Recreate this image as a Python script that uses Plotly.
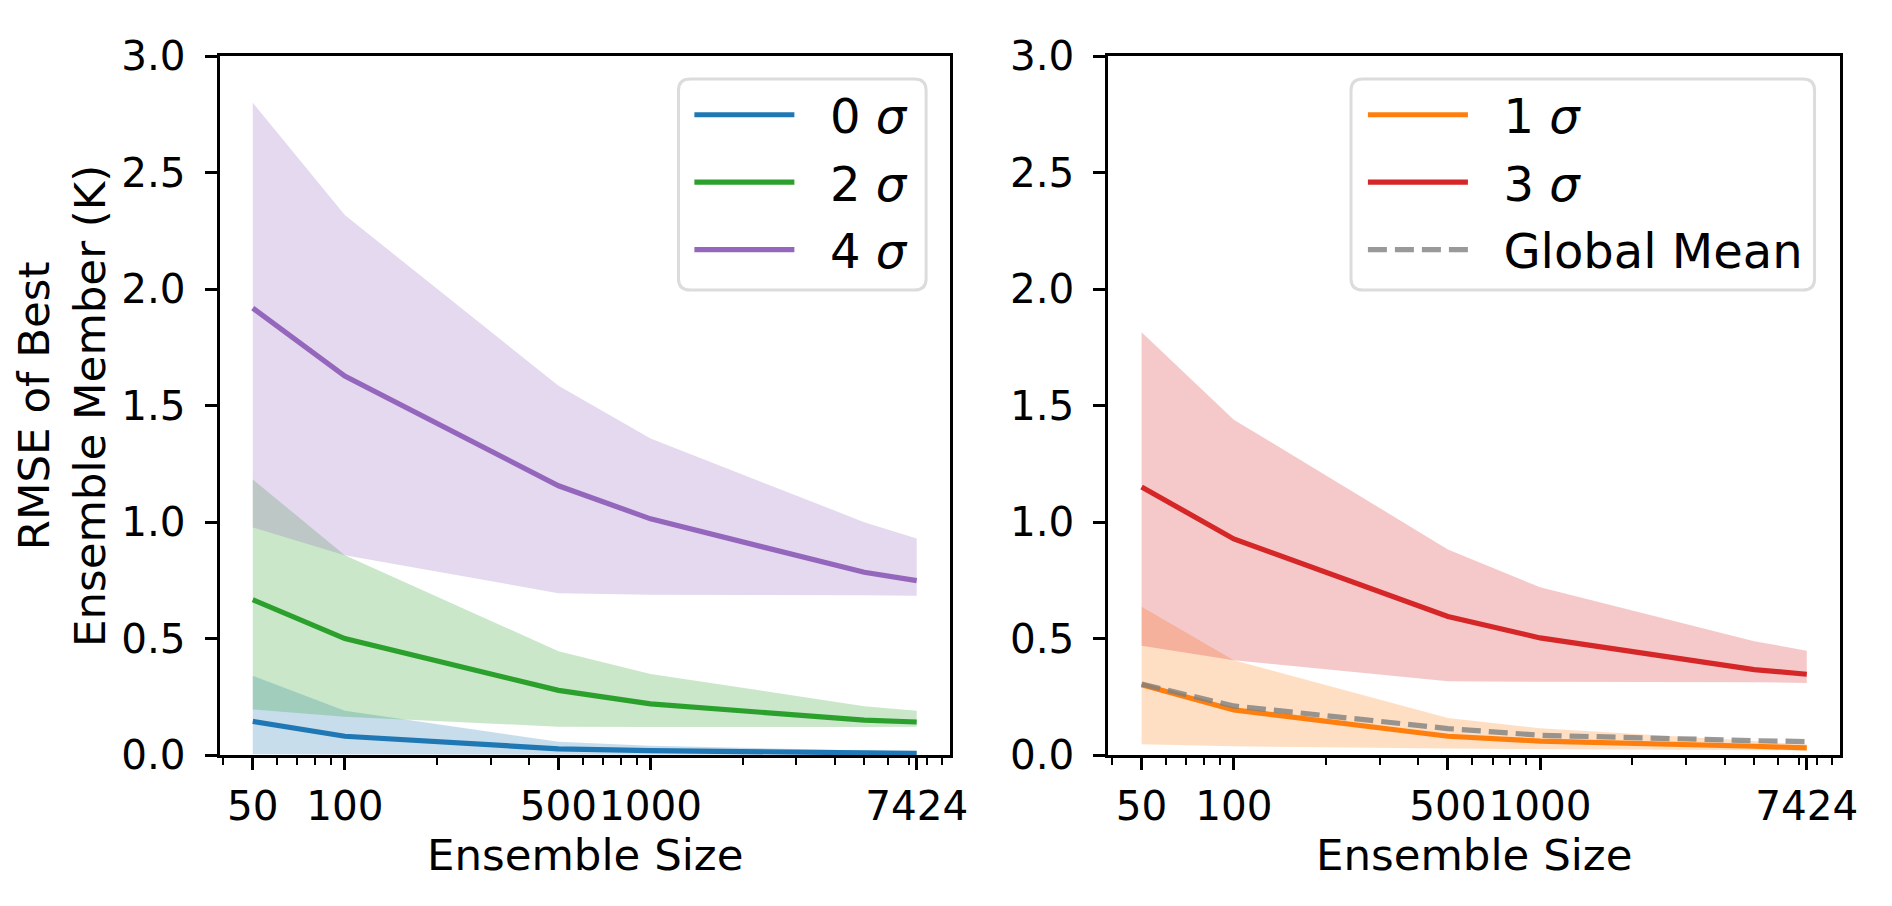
import plotly.graph_objects as go

W, H = 1892, 906

sizes = [50, 100, 500, 1000, 5000, 7424]
xtick_vals = [50, 100, 500, 1000, 7424]
xtick_text = ["50", "100", "500", "1000", "7424"]
minor_vals = [40, 60, 70, 80, 90, 200, 300, 400, 600, 700, 800, 900,
              2000, 3000, 4000, 5000, 6000, 7000, 8000, 9000]
ytick_vals = [0, 0.5, 1.0, 1.5, 2.0, 2.5, 3.0]
ytick_text = ["0.0", "0.5", "1.0", "1.5", "2.0", "2.5", "3.0"]

# 0 sigma (blue)
s0_mean = [0.145, 0.081, 0.027, 0.019, 0.010, 0.008]
s0_up = [0.340, 0.190, 0.057, 0.040, 0.020, 0.015]
s0_lo = [0.004, 0.003, 0.002, 0.002, 0.001, 0.001]
# 1 sigma (orange)
s1_mean = [0.302, 0.194, 0.081, 0.060, 0.038, 0.031]
s1_up = [0.637, 0.407, 0.159, 0.115, 0.060, 0.045]
s1_lo = [0.047, 0.038, 0.028, 0.025, 0.021, 0.020]
# 2 sigma (green)
s2_mean = [0.667, 0.500, 0.278, 0.220, 0.150, 0.142]
s2_up = [1.183, 0.858, 0.446, 0.348, 0.210, 0.190]
s2_lo = [0.196, 0.165, 0.122, 0.121, 0.121, 0.122]
# 3 sigma (red)
s3_mean = [1.151, 0.928, 0.595, 0.503, 0.367, 0.347]
s3_up = [1.815, 1.440, 0.883, 0.720, 0.489, 0.448]
s3_lo = [0.469, 0.407, 0.317, 0.315, 0.313, 0.310]
# 4 sigma (purple)
s4_mean = [1.919, 1.627, 1.156, 1.014, 0.785, 0.749]
s4_up = [2.800, 2.318, 1.585, 1.359, 1.000, 0.930]
s4_lo = [0.977, 0.858, 0.695, 0.688, 0.686, 0.684]
# global mean (grey dashed)
gm_mean = [0.305, 0.211, 0.114, 0.085, 0.062, 0.058]

FONT = "DejaVu Sans"
NB = "\u00a0\u00a0"
fig = go.Figure()


def band(xa, ya, color, up, lo, name, mean, legend, grp):
    fig.add_trace(go.Scatter(
        x=sizes + sizes[::-1], y=up + lo[::-1], xaxis=xa, yaxis=ya,
        mode="lines", line=dict(width=0), fill="toself",
        fillcolor=f"rgba({color[0]},{color[1]},{color[2]},0.25)",
        showlegend=False, hoverinfo="skip"))
    fig.add_trace(go.Scatter(
        x=sizes, y=mean, xaxis=xa, yaxis=ya, mode="lines", name=NB + name,
        line=dict(color=f"rgb({color[0]},{color[1]},{color[2]})", width=5.2),
        legend=legend, legendgroup=grp))


band("x", "y", (31, 119, 180), s0_up, s0_lo, "0 <i>σ</i>", s0_mean, "legend", "g0")
band("x2", "y2", (255, 127, 14), s1_up, s1_lo, "1 <i>σ</i>", s1_mean, "legend2", "g1")
band("x", "y", (44, 160, 44), s2_up, s2_lo, "2 <i>σ</i>", s2_mean, "legend", "g2")
band("x2", "y2", (214, 39, 40), s3_up, s3_lo, "3 <i>σ</i>", s3_mean, "legend2", "g3")
band("x", "y", (148, 103, 189), s4_up, s4_lo, "4 <i>σ</i>", s4_mean, "legend", "g4")

fig.add_trace(go.Scatter(
    x=sizes, y=gm_mean, xaxis="x2", yaxis="y2", mode="lines", name=NB + "Global Mean",
    line=dict(color="rgba(128,128,128,0.8)", width=5.2, dash="19px,8px"),
    legend="legend2", legendgroup="gm"))

xr = [1.5904, 3.9792]
yd = [1 - 772 / H, 1 - 34 / H]

xcommon = dict(type="log", range=xr, tickmode="array", tickvals=xtick_vals,
               ticktext=xtick_text, ticks="outside", ticklen=12, tickwidth=2.8,
               tickcolor="black", showline=True, linecolor="black", linewidth=2.8,
               mirror=True, showgrid=False, zeroline=False, tickangle=0,
               tickfont=dict(family=FONT, size=40.5, color="black"),
               ticklabelstandoff=1,
               minor=dict(tickmode="array", tickvals=minor_vals, ticks="outside",
                          ticklen=7, tickwidth=2.1, tickcolor="black", showgrid=False))
ycommon = dict(range=[0, 3.0], tickmode="array", tickvals=ytick_vals,
               ticktext=ytick_text, ticks="outside", ticklen=12, tickwidth=2.8,
               tickcolor="black", showline=True, linecolor="black", linewidth=2.8,
               mirror=True, showgrid=False, zeroline=False, domain=yd, tickangle=0,
               tickfont=dict(family=FONT, size=40.5, color="black"),
               ticklabelstandoff=11)

leg_common = dict(font=dict(family=FONT, size=48, color="black"),
                  bgcolor="rgba(0,0,0,0)", borderwidth=0,
                  xanchor="left", yanchor="top",
                  itemwidth=100, traceorder="grouped", tracegroupgap=2)


def frame(x0, y0, x1, y1, r=12):
    X0, X1 = x0 / W, x1 / W
    Y0, Y1 = 1 - y1 / H, 1 - y0 / H
    rx, ry = r / W, r / H
    path = (f"M{X0 + rx},{Y1} L{X1 - rx},{Y1} Q{X1},{Y1} {X1},{Y1 - ry} "
            f"L{X1},{Y0 + ry} Q{X1},{Y0} {X1 - rx},{Y0} L{X0 + rx},{Y0} "
            f"Q{X0},{Y0} {X0},{Y0 + ry} L{X0},{Y1 - ry} Q{X0},{Y1} {X0 + rx},{Y1} Z")
    return dict(type="path", xref="paper", yref="paper", path=path,
                fillcolor="rgba(255,255,255,0.8)",
                line=dict(color="#dcdcdc", width=3), layer="above")


fig.update_layout(
    width=W, height=H, margin=dict(l=0, r=0, t=0, b=0),
    paper_bgcolor="white", plot_bgcolor="white",
    xaxis=dict(domain=[221.7 / W, 959 / W], anchor="y", **xcommon),
    yaxis=dict(anchor="x", **ycommon),
    xaxis2=dict(domain=[1119 / W, 1857.7 / W], anchor="y2", **xcommon),
    yaxis2=dict(anchor="x2", **ycommon),
    legend=dict(x=696 / W, y=1 - 56 / H, **leg_common),
    legend2=dict(x=1376 / W, y=1 - 56 / H, **leg_common),
    shapes=[frame(685, 58, 935, 281), frame(1364, 58, 1832, 281)],
    annotations=[
        dict(text="Ensemble Size", xref="paper", yref="paper",
             x=590.4 / W, y=1 - 877 / H, xanchor="center", yanchor="middle",
             showarrow=False, font=dict(family=FONT, size=43.5, color="black")),
        dict(text="Ensemble Size", xref="paper", yref="paper",
             x=1488.4 / W, y=1 - 877 / H, xanchor="center", yanchor="middle",
             showarrow=False, font=dict(family=FONT, size=43.5, color="black")),
        dict(text="RMSE of Best<br>Ensemble Member (K)", xref="paper", yref="paper",
             x=63 / W, y=1 - 403 / H, xanchor="center", yanchor="middle",
             textangle=-90, showarrow=False,
             font=dict(family=FONT, size=43.5, color="black")),
    ],
)

fig.write_html("out.html", config={"displayModeBar": False},
               post_script="document.body.style.margin='0';"
                           "document.documentElement.style.overflow='hidden';")
